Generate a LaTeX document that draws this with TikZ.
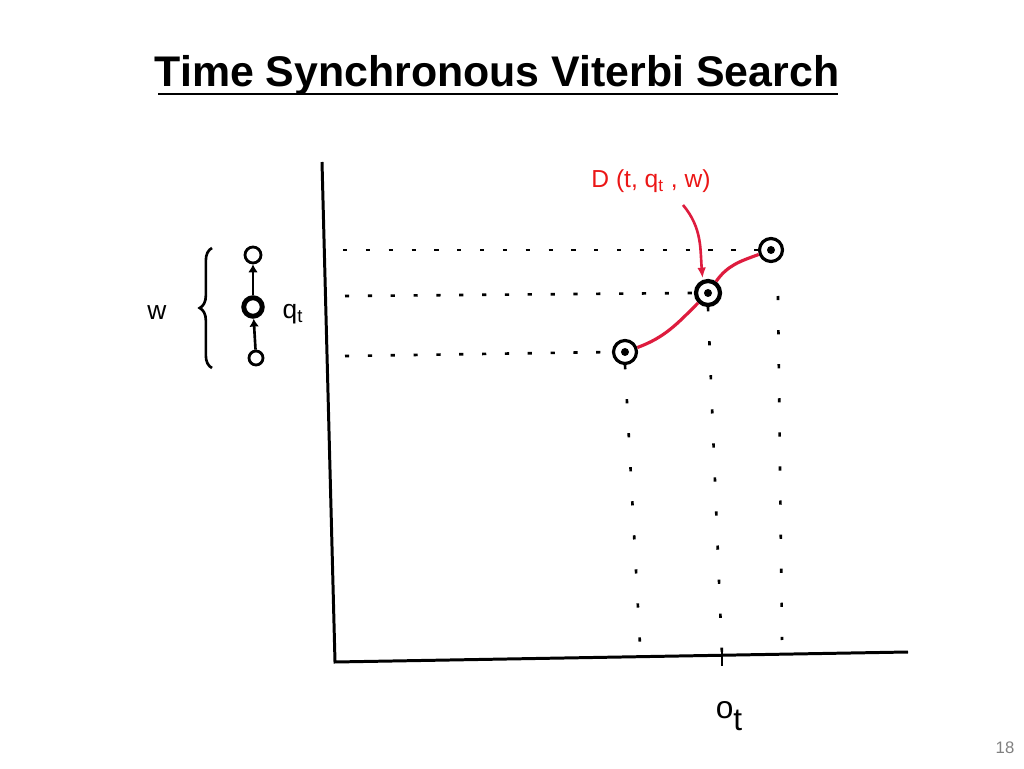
\documentclass[tikz,border=0pt]{standalone}
\usepackage{fontspec}
\setmainfont{Liberation Sans}
\usetikzlibrary{decorations.pathreplacing,arrows.meta}
\definecolor{penred}{RGB}{222,28,62}
\definecolor{labred}{RGB}{235,22,22}
\tikzset{
  stateo/.style={circle,draw,line width=1.6pt,inner sep=0pt,minimum size=0.32cm},
  gridpt/.style={circle,draw,line width=1.8pt,inner sep=0pt,minimum size=0.46cm,
    path picture={\fill (path picture bounding box.center) circle (0.08cm);}},
  hdots/.style={line width=1.5pt,dash pattern=on 2.4pt off 10.6pt},
  vdots/.style={line width=1.5pt,dash pattern=on 2.4pt off 17pt},
  redpath/.style={penred,line width=1.8pt}
}
\begin{document}
\begin{tikzpicture}[x=0.02cm,y=0.02cm]
      \useasboundingbox (0,0) rectangle (1024,768);
      \node[font=\fontsize{24.4}{28}\selectfont\bfseries] (title) at (497,693) {Time Synchronous Viterbi Search};
      \draw[line width=0.6pt] (158,674) -- (838,674);
      \draw[line width=1.7pt]
        (322,606) coordinate (ytop)
        -- (335,106) coordinate (orig)
        -- (908,116) coordinate (xend);
      \draw[line width=1.4pt] (722,119) -- (722,102);
      \draw
        (625,416) node[gridpt] (a){}
        (708,475) node[gridpt,line width=2.4pt,minimum size=0.48cm] (b){}
        (771,518) node[gridpt] (c){};
      \begin{scope}[-]
        \draw[hdots] (343,518) -- (c.west);
        \draw[hdots] (345,472) -- (b.west);
        \draw[hdots] (345,412) -- (a.west);
        \draw[vdots] (a.south) -- (640,123);
        \draw[vdots] (b.south) -- (722,113);
        \draw[vdots] (778,472) -- (782,128);
      \end{scope}
      \begin{scope}[redpath]
        \draw (a) to[out=20,in=225] (b);
        \draw (b) to[out=55,in=200] (c);
      \end{scope}
      \node[labred,font=\fontsize{14}{16}\selectfont] (dlab) at (651,587) {D (t, q\textsubscript{t} , w)};
      \coordinate (dtail) at (683,563);
      \draw[penred,line width=1.5pt,-{Latex[length=6pt,width=5pt]},shorten >=1pt]
        (dtail) to[out=-50,in=95] (b.112);
      \node[font=\fontsize{15}{18}\selectfont] (w) at (157,455) {w};
      \node[font=\fontsize{15}{18}\selectfont] (qt) at (293,454) {q\textsubscript{t}};
      \draw[line width=1.5pt,decorate,decoration={brace,amplitude=7pt}]
        (212,400) -- (212,520);
      \draw
        (256,410) node[stateo,minimum size=0.28cm] (s1){}
        (253,461) node[stateo,line width=2.8pt,minimum size=0.37cm] (s2){}
        (253,513) node[stateo] (s3){};
      \begin{scope}[line width=1.5pt,-{Latex[length=4.5pt,width=5.5pt]}]
        \draw (s1) to (s2);
        \draw (s2) to (s3);
      \end{scope}
      \node[font=\fontsize{18}{20}\selectfont] (ot) at (729,52) {o\raisebox{-0.4em}{t}};
      \node[gray,font=\fontsize{9.5}{11}\selectfont] (pg) at (1005,20) {18};
    \end{tikzpicture}
\end{document}
